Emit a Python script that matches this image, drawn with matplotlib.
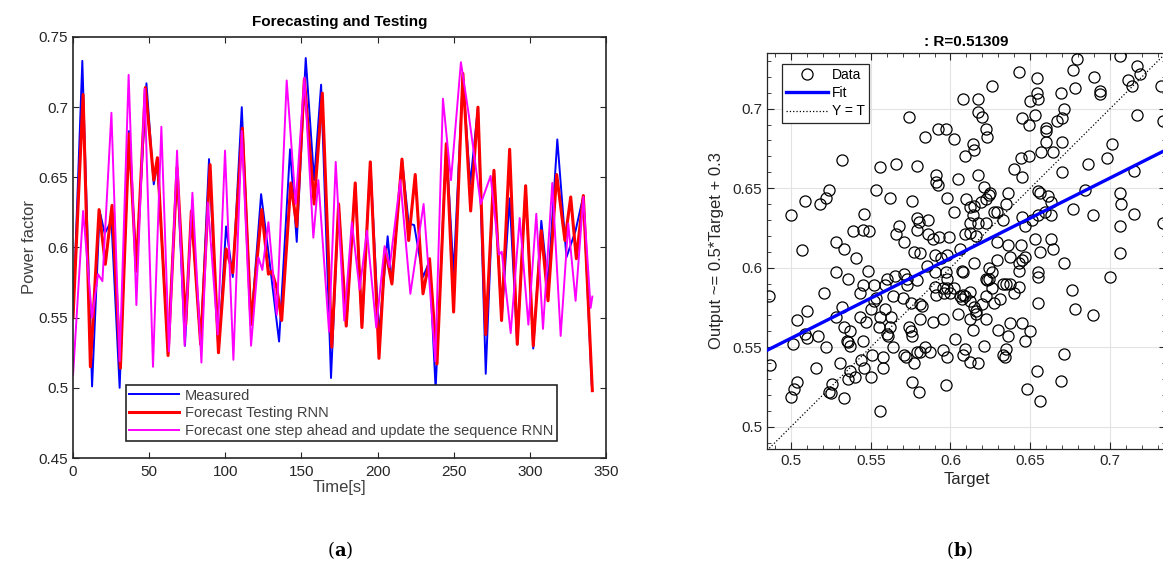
import matplotlib
matplotlib.use("Agg")
import matplotlib.pyplot as plt
from matplotlib.ticker import MultipleLocator

plt.rcParams['font.family'] = ['Liberation Sans', 'DejaVu Sans']
plt.rcParams['mathtext.fontset'] = 'dejavuserif'

# ---- left panel data ----
t_meas = [0, 6.1, 12.5, 17.5, 20.8, 25.2, 30.6, 36.8, 41.5, 48.2, 53, 55.4, 62.4, 68.3, 73.5, 77.7,
          83.8, 89.3, 95.5, 100.5, 104.9, 110.8, 116.9, 123.5, 128.5, 131, 135.3, 142.5, 146.9, 152.8,
          158.3, 162.9, 169.4, 174.4, 179.4, 185.3, 189.7, 195.2, 200.9, 206.6, 209.4, 216, 220.4, 224,
          229.8, 234, 238.1, 245.1, 249.9, 256, 260.8, 265.9, 271, 276.4, 281.4, 286.7, 291.7, 297.2,
          302.2, 307.5, 311.9, 318, 324, 330, 335.1, 340.6]
v_meas = [0.55, 0.733, 0.501, 0.626, 0.61, 0.619, 0.500, 0.683, 0.585, 0.717, 0.645, 0.66, 0.526, 0.657,
          0.530, 0.626, 0.531, 0.663, 0.525, 0.615, 0.579, 0.700, 0.545, 0.638, 0.595, 0.572, 0.533, 0.670,
          0.604, 0.735, 0.648, 0.716, 0.507, 0.631, 0.544, 0.646, 0.543, 0.661, 0.538, 0.608, 0.574, 0.663,
          0.617, 0.616, 0.579, 0.59, 0.499, 0.674, 0.581, 0.722, 0.645, 0.700, 0.510, 0.655, 0.548, 0.635,
          0.531, 0.644, 0.528, 0.619, 0.573, 0.677, 0.593, 0.612, 0.637, 0.502]

t_rnn = [0, 6.6, 11.4, 17.1, 21.2, 25.6, 31.1, 36.8, 41.5, 47.5, 53, 55.4, 62.4, 68.3, 74, 77.7, 83.8,
         90, 95.5, 100.5, 104.9, 111.2, 116.9, 123.9, 128.3, 130.5, 133.8, 137, 143, 146.9, 151.9, 158.3,
         163.7, 169.9, 174.4, 179.4, 185.3, 189.7, 195.2, 200.9, 205, 209.4, 216, 220.4, 224.7, 229.8,
         234.1, 239, 245.1, 249.9, 256, 261.1, 265.9, 271, 276.4, 281.4, 286.7, 291.7, 297.2, 302.2,
         307.5, 311.9, 317.6, 323, 326.8, 330.5, 335.1, 341]
v_rnn = [0.55, 0.709, 0.515, 0.627, 0.588, 0.630, 0.514, 0.681, 0.583, 0.714, 0.648, 0.664, 0.523, 0.657,
         0.545, 0.626, 0.531, 0.659, 0.525, 0.599, 0.582, 0.685, 0.545, 0.627, 0.581, 0.583, 0.571, 0.548,
         0.646, 0.615, 0.720, 0.631, 0.710, 0.529, 0.631, 0.544, 0.646, 0.543, 0.661, 0.521, 0.599, 0.574,
         0.663, 0.605, 0.652, 0.567, 0.592, 0.517, 0.674, 0.554, 0.724, 0.626, 0.700, 0.538, 0.655, 0.548,
         0.670, 0.531, 0.644, 0.530, 0.612, 0.562, 0.652, 0.605, 0.636, 0.592, 0.637, 0.498]

t_upd = [0, 6.6, 12.5, 16.4, 19.3, 25.2, 30.6, 36.5, 41.6, 47, 52.5, 58, 63, 68.3, 73.3, 78.4, 84.3,
         88.5, 95, 99.8, 105.3, 110.8, 116.9, 121.7, 124.3, 128.3, 133.8, 140.3, 146.2, 151.9, 157.8,
         161.1, 168.1, 172.5, 178.1, 183.1, 188.2, 193, 199.1, 204.6, 207.9, 214.9, 221.5, 230.2, 237.9,
         242.9, 248.2, 254.7, 259.8, 267.7, 274.2, 279.7, 281.5, 287.4, 293.3, 299, 304.2, 308.6, 314.7,
         320.2, 325.2, 330, 335.1, 339.9, 341]
v_upd = [0.509, 0.626, 0.55, 0.581, 0.576, 0.696, 0.519, 0.723, 0.559, 0.713, 0.515, 0.686, 0.526, 0.669,
         0.530, 0.639, 0.518, 0.632, 0.538, 0.669, 0.520, 0.683, 0.530, 0.593, 0.584, 0.618, 0.552, 0.719,
         0.631, 0.721, 0.607, 0.648, 0.540, 0.661, 0.548, 0.618, 0.570, 0.612, 0.543, 0.601, 0.586, 0.648,
         0.567, 0.631, 0.519, 0.706, 0.648, 0.732, 0.695, 0.631, 0.651, 0.595, 0.597, 0.539, 0.621, 0.545,
         0.624, 0.542, 0.646, 0.537, 0.617, 0.562, 0.636, 0.557, 0.565]

left_xticks = [0, 50, 100, 150, 200, 250, 300, 350]
left_yticks = [0.45, 0.5, 0.55, 0.6, 0.65, 0.7, 0.75]
left_ylabels = ['0.45', '0.5', '0.55', '0.6', '0.65', '0.7', '0.75']

# ---- right panel data ----
target = [0.592, 0.597, 0.574, 0.584, 0.602, 0.532, 0.556, 0.566, 0.579, 0.591, 0.591, 0.592, 0.605,
          0.524, 0.522, 0.518, 0.509, 0.500, 0.553, 0.562, 0.576, 0.598, 0.602, 0.546, 0.579, 0.580,
          0.586, 0.579, 0.568, 0.539, 0.545, 0.549, 0.566, 0.571, 0.586, 0.589, 0.593, 0.599, 0.528,
          0.533, 0.507,
          0.541, 0.577, 0.581, 0.598, 0.606, 0.590, 0.594, 0.528, 0.548, 0.536, 0.565, 0.560, 0.543,
          0.545, 0.552, 0.559, 0.521, 0.532, 0.510, 0.504, 0.517, 0.509, 0.510, 0.522, 0.501, 0.528,
          0.533, 0.537, 0.543, 0.547, 0.545, 0.536, 0.537, 0.535, 0.553, 0.552, 0.564, 0.570, 0.573,
          0.575, 0.581, 0.582, 0.579, 0.573, 0.571, 0.585, 0.590, 0.597, 0.598, 0.598, 0.595, 0.596,
          0.591, 0.602, 0.606, 0.600, 0.590, 0.589, 0.595, 0.603, 0.605, 0.581, 0.574, 0.575, 0.576,
          0.563, 0.562, 0.559, 0.556, 0.560, 0.561, 0.555, 0.550,
          0.551, 0.558, 0.571, 0.572, 0.579, 0.581, 0.587, 0.584, 0.564, 0.595, 0.598, 0.609, 0.608,
          0.544, 0.531, 0.546, 0.537, 0.540, 0.536, 0.550, 0.558, 0.577, 0.516, 0.487, 0.486, 0.526,
          0.524, 0.525, 0.504, 0.502, 0.500, 0.533, 0.576, 0.580, 0.597, 0.556,
          0.608, 0.643, 0.654, 0.626, 0.679, 0.677, 0.678, 0.669, 0.654, 0.650, 0.655, 0.617, 0.690,
          0.694, 0.694, 0.706, 0.717, 0.719, 0.711, 0.714, 0.732, 0.617, 0.620, 0.622, 0.623, 0.645,
          0.649, 0.653, 0.660, 0.660, 0.667, 0.670, 0.671, 0.660, 0.670, 0.614, 0.615, 0.609, 0.701,
          0.717, 0.733, 0.657, 0.664, 0.644, 0.649, 0.640, 0.645, 0.617, 0.670, 0.686, 0.698, 0.715,
          0.684, 0.706, 0.707, 0.715, 0.706, 0.733, 0.689, 0.677, 0.655, 0.656, 0.661, 0.663, 0.663,
          0.636, 0.645, 0.651, 0.655, 0.659, 0.647, 0.653, 0.663, 0.636, 0.644, 0.629, 0.621, 0.625,
          0.624, 0.622, 0.610, 0.612, 0.615, 0.619, 0.627, 0.629, 0.633, 0.635, 0.614, 0.612, 0.617,
          0.622, 0.609, 0.616, 0.612,
          0.706, 0.700, 0.671, 0.676, 0.678, 0.689, 0.671, 0.669, 0.654, 0.648, 0.656, 0.655, 0.655,
          0.655, 0.656, 0.664, 0.637, 0.629, 0.643, 0.645, 0.647, 0.643, 0.615, 0.608, 0.607, 0.624,
          0.626, 0.622, 0.623, 0.624, 0.626, 0.633, 0.635, 0.637, 0.643, 0.640, 0.631, 0.627, 0.622,
          0.612, 0.609, 0.608, 0.612, 0.607, 0.615, 0.616, 0.616, 0.612, 0.614, 0.622, 0.620, 0.630,
          0.636, 0.637, 0.645, 0.650, 0.647, 0.621, 0.612, 0.617, 0.635, 0.633, 0.634]
output = [0.687, 0.687, 0.695, 0.682, 0.681, 0.668, 0.663, 0.665, 0.664, 0.658, 0.654, 0.652, 0.656,
          0.649, 0.644, 0.640, 0.642, 0.633, 0.649, 0.644, 0.642, 0.644, 0.635, 0.634, 0.631, 0.629,
          0.630, 0.624, 0.626, 0.623, 0.624, 0.623, 0.621, 0.616, 0.621, 0.618, 0.619, 0.619, 0.616,
          0.612, 0.611,
          0.606, 0.610, 0.609, 0.608, 0.612, 0.608, 0.606, 0.597, 0.598, 0.593, 0.595, 0.593, 0.584,
          0.589, 0.589, 0.589, 0.584, 0.575, 0.573, 0.567, 0.557, 0.558, 0.556, 0.550, 0.552, 0.569,
          0.563, 0.560, 0.569, 0.566, 0.554, 0.553, 0.551, 0.554, 0.581, 0.579, 0.582, 0.581, 0.589,
          0.578, 0.577, 0.576, 0.592, 0.593, 0.596, 0.601, 0.597, 0.597, 0.593, 0.587, 0.587, 0.584,
          0.583, 0.587, 0.582, 0.584, 0.588, 0.566, 0.568, 0.555, 0.571, 0.568, 0.563, 0.560, 0.557,
          0.569, 0.563, 0.574, 0.569, 0.558, 0.557, 0.563, 0.574,
          0.545, 0.544, 0.545, 0.544, 0.547, 0.547, 0.547, 0.550, 0.550, 0.548, 0.544, 0.549, 0.545,
          0.542, 0.540, 0.537, 0.535, 0.531, 0.530, 0.531, 0.537, 0.540, 0.537, 0.539, 0.582, 0.527,
          0.522, 0.521, 0.528, 0.524, 0.519, 0.518, 0.528, 0.522, 0.526, 0.510,
          0.706, 0.723, 0.719, 0.714, 0.731, 0.724, 0.713, 0.710, 0.710, 0.705, 0.706, 0.706, 0.720,
          0.711, 0.709, 0.733, 0.727, 0.722, 0.718, 0.714, 0.714, 0.698, 0.695, 0.687, 0.682, 0.694,
          0.690, 0.696, 0.688, 0.686, 0.692, 0.694, 0.700, 0.679, 0.679, 0.678, 0.674, 0.670, 0.678,
          0.696, 0.692, 0.673, 0.673, 0.669, 0.670, 0.662, 0.657, 0.658, 0.660, 0.665, 0.669, 0.661,
          0.649, 0.647, 0.640, 0.634, 0.626, 0.628, 0.633, 0.637, 0.648, 0.647, 0.645, 0.641, 0.633,
          0.647, 0.632, 0.630, 0.633, 0.635, 0.626, 0.618, 0.618, 0.614, 0.614, 0.616, 0.651, 0.647,
          0.646, 0.643, 0.643, 0.638, 0.639, 0.641, 0.635, 0.635, 0.630, 0.640, 0.633, 0.628, 0.628,
          0.628, 0.621, 0.620, 0.622,
          0.609, 0.594, 0.603, 0.586, 0.574, 0.570, 0.546, 0.529, 0.535, 0.524, 0.516, 0.578, 0.594,
          0.597, 0.610, 0.612, 0.607, 0.605, 0.603, 0.605, 0.607, 0.598, 0.603, 0.597, 0.598, 0.600,
          0.597, 0.593, 0.592, 0.593, 0.587, 0.590, 0.590, 0.590, 0.588, 0.584, 0.580, 0.578, 0.582,
          0.585, 0.582, 0.583, 0.579, 0.580, 0.575, 0.573, 0.571, 0.568, 0.561, 0.568, 0.577, 0.561,
          0.557, 0.565, 0.565, 0.560, 0.554, 0.551, 0.541, 0.540, 0.549, 0.545, 0.544]

fit_slope = 0.504
fit_intercept = 0.3036
r_value = 0.51309
right_ticks = [0.5, 0.55, 0.6, 0.65, 0.7]
right_ticklabels = ['0.5', '0.55', '0.6', '0.65', '0.7']
right_lim = (0.485, 0.735)

fig = plt.figure(figsize=(11.63, 5.63), dpi=100)

# ---------------- (a) ----------------
ax1 = fig.add_axes([0.0628, 0.1865, 0.4583, 0.7478])
ax1.plot(t_meas, v_meas, color='#0000ff', lw=1.4, label='Measured')
ax1.plot(t_rnn, v_rnn, color='#ff0000', lw=2.2, label='Forecast Testing RNN')
ax1.plot(t_upd, v_upd, color='#ff00ff', lw=1.4,
         label='Forecast one step ahead and update the sequence RNN')
ax1.set_xlim(0, 350)
ax1.set_ylim(0.45, 0.75)
ax1.set_xticks(left_xticks)
ax1.set_yticks(left_yticks)
ax1.set_yticklabels(left_ylabels)
ax1.tick_params(direction='in', top=True, right=True, labelsize=11, colors='#262626', length=4)
ax1.tick_params(axis='x', pad=5)
for s in ax1.spines.values():
    s.set_color('#262626')
    s.set_linewidth(1.2)
ax1.set_title('Forecasting and Testing', fontsize=11, fontweight='bold', pad=8)
ax1.set_xlabel('Time[s]', fontsize=12, color='#404040', labelpad=1)
ax1.set_ylabel('Power factor', fontsize=12, color='#404040', labelpad=1)
leg1 = ax1.legend(loc='lower left', bbox_to_anchor=(0.085, 0.022), fontsize=10.5,
                  handlelength=3.4, labelspacing=0.25, borderpad=0.25, handletextpad=0.4,
                  fancybox=False, framealpha=1, edgecolor='#262626')
leg1.get_frame().set_linewidth(1.2)
for txt in leg1.get_texts():
    txt.set_color('#404040')

# ---------------- (b) ----------------
ax2 = fig.add_axes([0.6595, 0.2025, 0.343, 0.7034])
ax2.grid(True, color='#e3e3e3', lw=0.8, zorder=0)
ax2.plot(target, output, 'o', mfc='none', mec='black', mew=0.9, ms=8, label='Data', zorder=3)
fx = list(right_lim)
ax2.plot(fx, [fit_slope * x + fit_intercept for x in fx], color='#0000ff', lw=2.4, label='Fit', zorder=4)
ax2.plot(fx, fx, color='black', ls=':', lw=0.9, label='Y = T', zorder=2)
ax2.set_xlim(right_lim)
ax2.set_ylim(0.486, 0.735)
ax2.set_xticks(right_ticks)
ax2.set_xticklabels(right_ticklabels)
ax2.set_yticks(right_ticks)
ax2.set_yticklabels(right_ticklabels)
ax2.xaxis.set_minor_locator(MultipleLocator(0.01))
ax2.yaxis.set_minor_locator(MultipleLocator(0.01))
ax2.tick_params(which='both', direction='in', top=True, right=True, colors='#262626')
ax2.tick_params(which='major', length=5, labelsize=11)
ax2.tick_params(which='minor', length=3)
for s in ax2.spines.values():
    s.set_color('#262626')
    s.set_linewidth(0.9)
ax2.set_axisbelow(True)
ax2.set_title(': R=%.5f' % r_value, fontsize=11, fontweight='bold', pad=5)
ax2.set_xlabel('Target', fontsize=12, color='#262626', labelpad=3)
ax2.set_ylabel('Output ~= 0.5*Target + 0.3', fontsize=12, color='#262626', labelpad=6)
leg2 = ax2.legend(loc='upper left', bbox_to_anchor=(0.02, 0.99), fontsize=10,
                  handlelength=3.0, labelspacing=0.3, borderpad=0.3, handletextpad=0.3,
                  fancybox=False, framealpha=1, edgecolor='#262626')
leg2.get_frame().set_linewidth(0.9)

# panel captions
fig.text(340 / 1163, 1 - 550 / 563, r'($\mathbf{a}$)', ha='center', va='center', fontsize=13,
         family='DejaVu Serif')
fig.text(960 / 1163, 1 - 550 / 563, r'($\mathbf{b}$)', ha='center', va='center', fontsize=13,
         family='DejaVu Serif')

fig.savefig('out.png', dpi=100)
